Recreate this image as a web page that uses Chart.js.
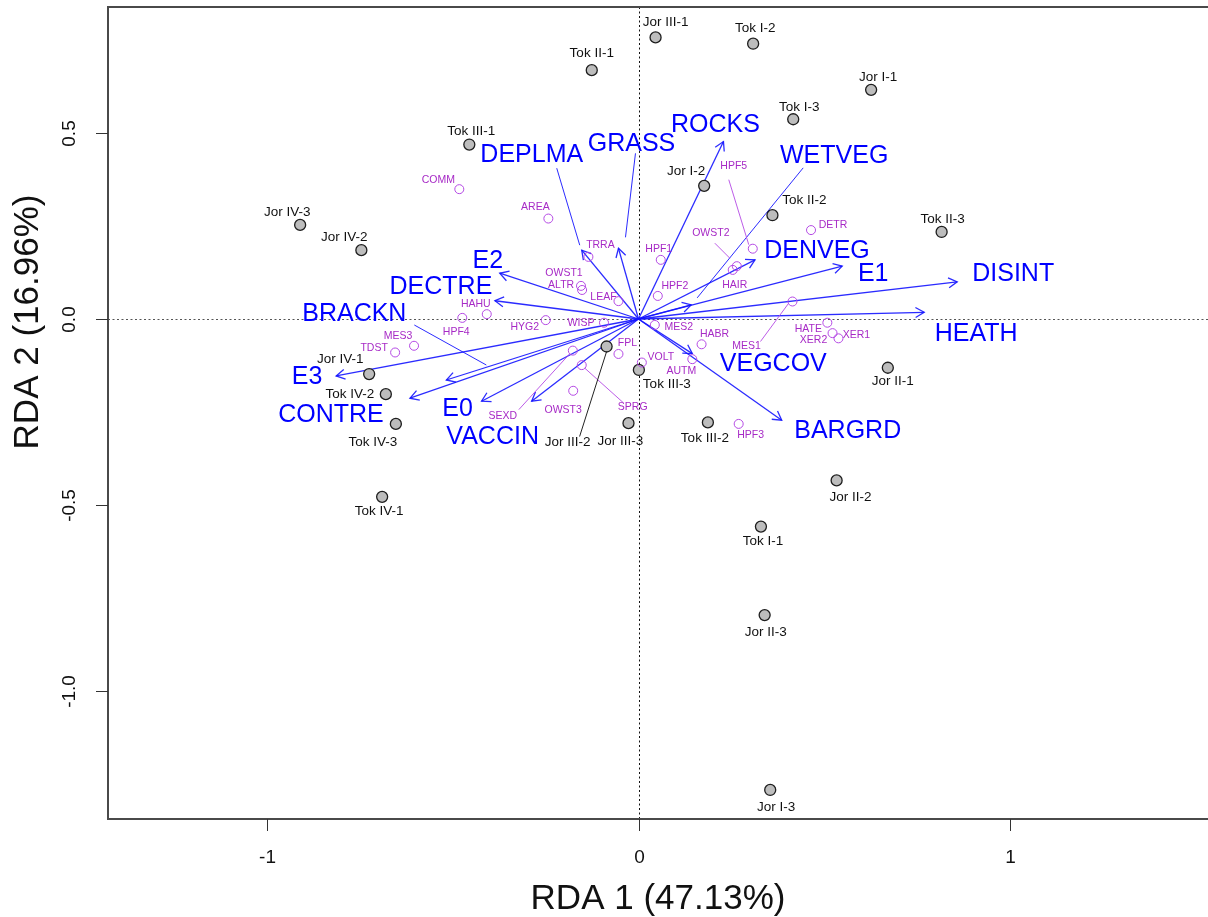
<!DOCTYPE html>
<html>
<head>
<meta charset="utf-8">
<script src="https://cdn.jsdelivr.net/npm/chart.js@4.4.0/dist/chart.umd.min.js"></script>
<style>
  html, body { margin: 0; padding: 0; background: #ffffff; overflow: hidden; }
  #wrap { width: 1208px; height: 917px; position: relative; }
</style>
</head>
<body>
<div id="wrap"><canvas id="rda" width="1208" height="917"></canvas></div>
<script>
// ---- Site scores (RDA1, RDA2) ----
const siteNames = ['Jor I-1','Jor I-2','Jor I-3','Jor II-1','Jor II-2','Jor II-3',
  'Jor III-1','Jor III-2','Jor III-3','Jor IV-1','Jor IV-2','Jor IV-3',
  'Tok I-1','Tok I-2','Tok I-3','Tok II-1','Tok II-2','Tok II-3',
  'Tok III-1','Tok III-2','Tok III-3','Tok IV-1','Tok IV-2','Tok IV-3'];
const siteRDA1 = [0.627, 0.177, 0.355, 0.672, 0.534, 0.340,
  0.046, -0.086, -0.027, -0.726, -0.747, -0.912,
  0.330, 0.309, 0.417, -0.126, 0.361, 0.817,
  -0.456, 0.187, 0.001, -0.691, -0.681, -0.654];
const siteRDA2 = [0.616, 0.358, -1.266, -0.131, -0.434, -0.796,
  0.757, -0.074, -0.280, -0.148, 0.185, 0.253,
  -0.558, 0.740, 0.537, 0.669, 0.279, 0.234,
  0.469, -0.278, -0.137, -0.478, -0.202, -0.282];

// ---- Species / trait scores ----
const speciesNames = ['COMM','AREA','TRRA','OWST1','ALTR','LEAF','HAHU','HPF4','HYG2','WISP',
  'MES3','TDST','FPL','SEXD','OWST3','SPRG','VOLT','MES2','HABR','AUTM',
  'MES1','HATE','XER2','XER1','HPF3','HPF1','HPF2','HPF5','OWST2','HAIR','DETR'];
const speciesRDA1 = [-0.483, -0.243, -0.135, -0.155, -0.152, -0.054, -0.409, -0.475, -0.250, -0.093,
  -0.605, -0.656, -0.054, -0.177, -0.176, -0.153, 0.009, 0.044, 0.170, 0.145,
  0.415, 0.509, 0.523, 0.539, 0.270, 0.060, 0.052, 0.308, 0.265, 0.254, 0.465];
const speciesRDA2 = [0.349, 0.270, 0.167, 0.089, 0.078, 0.048, 0.013, 0.003, -0.003, -0.010,
  -0.072, -0.090, -0.094, -0.085, -0.193, -0.124, -0.117, -0.016, -0.068, -0.108,
  0.047, -0.010, -0.038, -0.052, -0.282, 0.159, 0.062, 0.189, 0.142, 0.132, 0.239];

// ---- Explanatory variables (biplot arrows) ----
const envNames = ['DEPLMA','GRASS','ROCKS','WETVEG','DENVEG','E1','DISINT','HEATH','VEGCOV',
  'BARGRD','E2','DECTRE','BRACKN','E3','CONTRE','E0','VACCIN'];
const envRDA1 = [-0.153, -0.054, 0.229, 0.142, 0.314, 0.549, 0.859, 0.770, 0.145,
  0.386, -0.374, -0.387, -0.518, -0.815, -0.616, -0.423, -0.288];
const envRDA2 = [0.185, 0.190, 0.477, 0.038, 0.159, 0.142, 0.100, 0.018, -0.093,
  -0.272, 0.123, 0.049, -0.164, -0.153, -0.213, -0.221, -0.221];

// ---- Axes ----
const xTickValues = [-1, 0, 1];
const xTickLabels = ['-1', '0', '1'];
const yTickValues = [0.5, 0, -0.5, -1];
const yTickLabels = ['0.5', '0.0', '-0.5', '-1.0'];
const xTitle = 'RDA 1 (47.13%)';
const yTitle = 'RDA 2 (16.96%)';

// ---- Label placement (pixel offsets from the mark) ----
const siteLabelOffset = {
  'Tok II-1':[0,-17], 'Jor III-1':[10,-15], 'Tok I-2':[2,-15], 'Jor I-1':[7,-13],
  'Tok I-3':[6,-12], 'Jor I-2':[-18,-15], 'Tok II-2':[32,-15], 'Tok II-3':[1,-13],
  'Jor II-1':[5,14], 'Tok III-1':[2,-13], 'Jor IV-3':[-13,-13], 'Jor IV-2':[-17,-13],
  'Jor IV-1':[-29,-15], 'Tok IV-2':[-36,0], 'Tok IV-3':[-23,18], 'Jor III-2':[-39,96],
  'Jor III-3':[-8,18], 'Tok III-3':[28,14], 'Tok III-2':[-3,16], 'Jor II-2':[14,17],
  'Tok I-1':[2,15], 'Jor II-3':[1,17], 'Jor I-3':[6,17], 'Tok IV-1':[-3,14]
};
const siteLeaders = { 'Jor III-2': [[0,5],[-27,90]] };

const speciesLabelOffset = {
  COMM:[-21,-9], AREA:[-13,-11], TRRA:[12,-12], OWST1:[-17,-13], ALTR:[-21,-5], LEAF:[-15,-4],
  HAHU:[-11,-10], HPF4:[-6,14], HYG2:[-21,7], WISP:[-23,0], MES3:[-16,-10], TDST:[-21,-4],
  FPL:[9,-11], SEXD:[-70,65], OWST3:[-10,19], SPRG:[51,42], VOLT:[19,-5], MES2:[24,2],
  HABR:[13,-10], AUTM:[-11,12], MES1:[-46,45], HATE:[-19,6], XER2:[-19,7], XER1:[18,-3],
  HPF3:[12,11], HPF1:[-2,-11], HPF2:[17,-10], HPF5:[-19,-83], OWST2:[-26,-33], HAIR:[2,15],
  DETR:[22,-5]
};
const speciesLeaders = {
  HPF5:[[-4,-4],[-24,-69]], OWST2:[[-7,-8],[-22,-23]], MES1:[[-4,2],[-32,40]],
  SEXD:[[-3,3],[-54,59]], SPRG:[[3,3],[42,38]]
};

const envLabelOffset = {
  DEPLMA:[-50,-95], GRASS:[13,-104], ROCKS:[-8,-16], WETVEG:[143,-149], DENVEG:[62,-9],
  E1:[31,8], DISINT:[56,-8], HEATH:[52,22], VEGCOV:[81,11], BARGRD:[66,11],
  E2:[-12,-12], DECTRE:[-54,-14], BRACKN:[-92,-66], E3:[-29,1.5], CONTRE:[-79,17],
  E0:[-24,8], VACCIN:[-39,36]
};
const envLeaders = {
  DEPLMA:[[-2,-5],[-25,-82]], GRASS:[[7,-11],[17,-95]],
  WETVEG:[[6,-7],[112,-137]], BRACKN:[[40,-15],[-32,-55]]
};

const FONT = "'Liberation Sans', Arial, Helvetica, sans-serif";
const ENV_COLOR = '#0000ff';
const ARROW_COLOR = 'rgba(20,20,255,0.9)';
const SPP_TEXT = '#a72ac6';
const SPP_LINE = '#b449e4';

function px(chart, x, y) {
  return [chart.scales.x.getPixelForValue(x), chart.scales.y.getPixelForValue(y)];
}

function drawArrow(ctx, x0, y0, x1, y1) {
  ctx.beginPath();
  ctx.moveTo(x0, y0);
  ctx.lineTo(x1, y1);
  ctx.stroke();
  const a = Math.atan2(y1 - y0, x1 - x0);
  const len = 10, spread = Math.PI / 6;
  ctx.beginPath();
  ctx.moveTo(x1 - len * Math.cos(a - spread), y1 - len * Math.sin(a - spread));
  ctx.lineTo(x1, y1);
  ctx.lineTo(x1 - len * Math.cos(a + spread), y1 - len * Math.sin(a + spread));
  ctx.stroke();
}

const rdaDecor = {
  id: 'rdaDecor',
  beforeDatasetsDraw(chart) {
    const ctx = chart.ctx;
    const area = chart.chartArea;
    const [ox, oy] = px(chart, 0, 0);
    ctx.save();
    // zero reference lines
    ctx.setLineDash([2, 2.5]);
    ctx.lineWidth = 1;
    ctx.strokeStyle = '#555';
    ctx.beginPath();
    ctx.moveTo(area.left, Math.round(oy) + 0.5);
    ctx.lineTo(area.right, Math.round(oy) + 0.5);
    ctx.stroke();
    ctx.strokeStyle = '#111';
    ctx.beginPath();
    ctx.moveTo(Math.round(ox) + 0.5, area.top);
    ctx.lineTo(Math.round(ox) + 0.5, area.bottom);
    ctx.stroke();
    ctx.setLineDash([]);

    // biplot arrows
    ctx.strokeStyle = ARROW_COLOR;
    ctx.lineWidth = 1.3;
    envNames.forEach((n, i) => {
      const [tx, ty] = px(chart, envRDA1[i], envRDA2[i]);
      drawArrow(ctx, ox, oy, tx, ty);
      const ld = envLeaders[n];
      if (ld) {
        ctx.save();
        ctx.lineWidth = 1;
        ctx.beginPath();
        ctx.moveTo(tx + ld[0][0], ty + ld[0][1]);
        ctx.lineTo(tx + ld[1][0], ty + ld[1][1]);
        ctx.stroke();
        ctx.restore();
      }
    });
    ctx.restore();
  },
  afterDatasetsDraw(chart) {
    const ctx = chart.ctx;
    const area = chart.chartArea;
    ctx.save();
    ctx.textAlign = 'center';
    ctx.textBaseline = 'middle';

    // species labels
    ctx.font = `10.5px ${FONT}`;
    speciesNames.forEach((n, i) => {
      const [sx, sy] = px(chart, speciesRDA1[i], speciesRDA2[i]);
      const ld = speciesLeaders[n];
      if (ld) {
        ctx.strokeStyle = SPP_LINE;
        ctx.lineWidth = 0.9;
        ctx.beginPath();
        ctx.moveTo(sx + ld[0][0], sy + ld[0][1]);
        ctx.lineTo(sx + ld[1][0], sy + ld[1][1]);
        ctx.stroke();
      }
      const o = speciesLabelOffset[n] || [0, -10];
      ctx.fillStyle = SPP_TEXT;
      ctx.fillText(n, sx + o[0], sy + o[1]);
    });

    // site labels
    ctx.font = `13.5px ${FONT}`;
    siteNames.forEach((n, i) => {
      const [sx, sy] = px(chart, siteRDA1[i], siteRDA2[i]);
      const ld = siteLeaders[n];
      if (ld) {
        ctx.strokeStyle = '#222';
        ctx.lineWidth = 1;
        ctx.beginPath();
        ctx.moveTo(sx + ld[0][0], sy + ld[0][1]);
        ctx.lineTo(sx + ld[1][0], sy + ld[1][1]);
        ctx.stroke();
      }
      const o = siteLabelOffset[n] || [0, -14];
      ctx.fillStyle = '#111';
      ctx.fillText(n, sx + o[0], sy + o[1]);
    });

    // explanatory variable labels
    ctx.font = `25px ${FONT}`;
    ctx.fillStyle = ENV_COLOR;
    envNames.forEach((n, i) => {
      const [tx, ty] = px(chart, envRDA1[i], envRDA2[i]);
      const o = envLabelOffset[n] || [0, 0];
      ctx.fillText(n, tx + o[0], ty + o[1]);
    });

    // frame (open on the right, where the plot runs off the page)
    ctx.strokeStyle = '#4a4a4a';
    ctx.lineWidth = 2;
    ctx.beginPath();
    ctx.moveTo(area.right + 2, area.top);
    ctx.lineTo(area.left, area.top);
    ctx.lineTo(area.left, area.bottom);
    ctx.lineTo(area.right + 2, area.bottom);
    ctx.stroke();

    // ticks and tick labels
    ctx.lineWidth = 1;
    ctx.strokeStyle = '#333';
    ctx.fillStyle = '#111';
    ctx.font = `19px ${FONT}`;
    xTickValues.forEach((v, i) => {
      const x = Math.round(chart.scales.x.getPixelForValue(v)) + 0.5;
      ctx.beginPath();
      ctx.moveTo(x, area.bottom);
      ctx.lineTo(x, area.bottom + 12);
      ctx.stroke();
      ctx.fillText(xTickLabels[i], x, area.bottom + 39);
    });
    yTickValues.forEach((v, i) => {
      const y = Math.round(chart.scales.y.getPixelForValue(v)) + 0.5;
      ctx.beginPath();
      ctx.moveTo(area.left, y);
      ctx.lineTo(area.left - 12, y);
      ctx.stroke();
      ctx.save();
      ctx.translate(area.left - 38, y);
      ctx.rotate(-Math.PI / 2);
      ctx.fillText(yTickLabels[i], 0, 0);
      ctx.restore();
    });

    // axis titles
    ctx.font = `35px ${FONT}`;
    ctx.fillText(xTitle, (area.left + area.right) / 2, area.bottom + 80);
    ctx.save();
    ctx.translate(28, 322);
    ctx.rotate(-Math.PI / 2);
    ctx.fillText(yTitle, 0, 0);
    ctx.restore();

    ctx.restore();
  }
};

const sitePoints = siteNames.map((n, i) => ({ x: siteRDA1[i], y: siteRDA2[i] }));
const speciesPoints = speciesNames.map((n, i) => ({ x: speciesRDA1[i], y: speciesRDA2[i] }));

new Chart(document.getElementById('rda'), {
  type: 'scatter',
  data: {
    datasets: [
      {
        label: 'Traits',
        data: speciesPoints,
        pointRadius: 4.5,
        pointBackgroundColor: 'rgba(255,255,255,0)',
        pointBorderColor: SPP_LINE,
        pointBorderWidth: 1
      },
      {
        label: 'Sites',
        data: sitePoints,
        pointRadius: 5.5,
        pointBackgroundColor: '#bdbdbd',
        pointBorderColor: '#1e1e1e',
        pointBorderWidth: 1.3
      }
    ]
  },
  options: {
    responsive: false,
    animation: false,
    devicePixelRatio: 1,
    layout: { autoPadding: false, padding: { left: 108, top: 7, right: 0, bottom: 98 } },
    scales: {
      x: { type: 'linear', min: -1.4299, max: 1.535, display: false },
      y: { type: 'linear', min: -1.3441, max: 0.8387, display: false }
    },
    plugins: { legend: { display: false }, tooltip: { enabled: false } },
    events: []
  },
  plugins: [rdaDecor]
});
</script>
</body>
</html>
